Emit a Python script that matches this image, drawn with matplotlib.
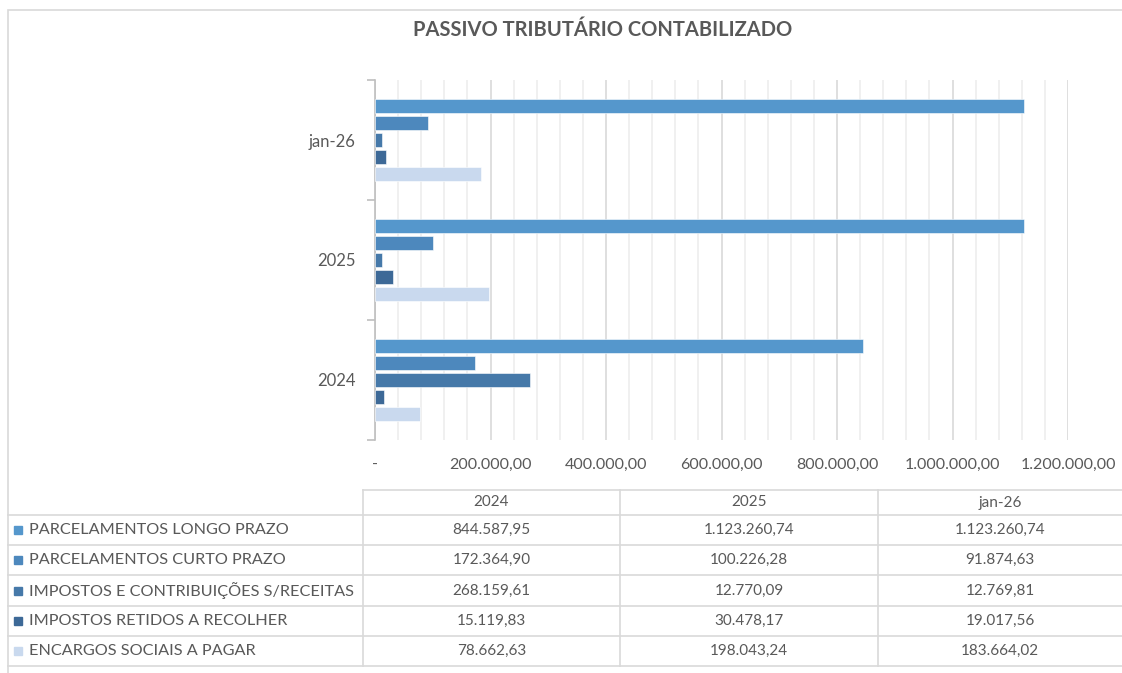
import matplotlib.pyplot as plt
from matplotlib.lines import Line2D
from matplotlib.patches import Rectangle
from matplotlib.ticker import MultipleLocator, FuncFormatter
import numpy as np

plt.rcParams['font.family'] = ['Lato', 'DejaVu Sans']

periods = ['2024', '2025', 'jan-26']
series = ['PARCELAMENTOS LONGO PRAZO', 'PARCELAMENTOS CURTO PRAZO',
          'IMPOSTOS E CONTRIBUIÇÕES S/RECEITAS', 'IMPOSTOS RETIDOS A RECOLHER',
          'ENCARGOS SOCIAIS A PAGAR']
longo = [844587.95, 1123260.74, 1123260.74]
curto = [172364.90, 100226.28, 91874.63]
impostos = [268159.61, 12770.09, 12769.81]
retidos = [15119.83, 30478.17, 19017.56]
encargos = [78662.63, 198043.24, 183664.02]
values = [longo, curto, impostos, retidos, encargos]
colors = ['#5597cc', '#4d88bd', '#4679a9', '#3d6997', '#c9d9ee']

TXT = '#595959'
W, H = 1122, 673


def fx(px):
    return px / W


def fy(py):
    return 1 - py / H


def br(v):
    s = f'{v:,.2f}'
    return s.replace(',', 'X').replace('.', ',').replace('X', '.')


fig = plt.figure(figsize=(11.22, 6.73), dpi=100)

# chart frame
fig.add_artist(Rectangle((fx(8), fy(700)), fx(1130) - fx(8), fy(10) - fy(700),
                         transform=fig.transFigure, fill=False,
                         edgecolor='#d9d9d9', lw=1.2))

ax = fig.add_axes([fx(375), fy(440), fx(1068) - fx(375), fy(80) - fy(440)])
ypos = np.arange(len(periods))
step = 0.14
for i, (name, vals) in enumerate(zip(series, values)):
    ax.barh(ypos + (2 - i) * step, vals, height=0.118, color=colors[i],
            edgecolor='white', linewidth=0.4, zorder=3)

ax.set_xlim(0, 1200000)
ax.set_ylim(-0.5, 2.5)
ax.xaxis.set_major_locator(MultipleLocator(200000))
ax.xaxis.set_minor_locator(MultipleLocator(40000))
ax.xaxis.set_major_formatter(FuncFormatter(lambda v, p: '-' if v == 0 else br(v)))
ax.grid(axis='x', which='minor', color='#eeeeee', lw=1.2, zorder=0)
ax.grid(axis='x', which='major', color='#d9d9d9', lw=1.2, zorder=1)
ax.set_yticks(ypos)
ax.set_yticklabels(periods)
ax.set_yticks([-0.5, 0.5, 1.5, 2.5], minor=True)
ax.tick_params(axis='y', which='major', length=0, pad=14, labelsize=12, colors=TXT)
ax.tick_params(axis='y', which='minor', length=6, color='#bfbfbf', width=1.2)
ax.tick_params(axis='x', which='both', length=0, pad=13, labelsize=11.5, colors=TXT)
for s in ['top', 'right', 'bottom']:
    ax.spines[s].set_visible(False)
ax.spines['left'].set_color('#bfbfbf')
ax.spines['left'].set_linewidth(1.2)
ax.set_facecolor('none')

fig.text(fx(603), fy(30), 'PASSIVO TRIBUTÁRIO CONTABILIZADO', ha='center',
         va='center', fontsize=14.5, fontweight='bold', color=TXT)

# data table
lc = '#d9d9d9'
col_x = [363, 620, 878, 1122]
row_y = [490, 515, 545, 575, 606, 636, 666]


def hline(y, x0, x1):
    fig.add_artist(Line2D([fx(x0), fx(x1)], [fy(y), fy(y)],
                          transform=fig.transFigure, color=lc, lw=1.2))


def vline(x, y0, y1):
    fig.add_artist(Line2D([fx(x), fx(x)], [fy(y0), fy(y1)],
                          transform=fig.transFigure, color=lc, lw=1.2))


hline(row_y[0], col_x[0], W)
for y in row_y[1:]:
    hline(y, 8, W)
for x in col_x[:3]:
    vline(x, row_y[0], row_y[-1])

for j, p in enumerate(periods):
    cx = (col_x[j] + col_x[j + 1]) / 2
    fig.text(fx(cx), fy((row_y[0] + row_y[1]) / 2), p, ha='center',
             va='center', fontsize=11, color=TXT)

for i, (name, vals) in enumerate(zip(series, values)):
    cy = (row_y[i + 1] + row_y[i + 2]) / 2
    fig.add_artist(Rectangle((fx(14), fy(cy + 4)), fx(8), fy(cy - 4) - fy(cy + 4),
                             transform=fig.transFigure, color=colors[i]))
    fig.text(fx(29), fy(cy), name, ha='left', va='center', fontsize=11.7, color=TXT)
    for j, v in enumerate(vals):
        cx = (col_x[j] + col_x[j + 1]) / 2
        fig.text(fx(cx), fy(cy), br(v), ha='center', va='center',
                 fontsize=11, color=TXT)

fig.savefig('out.png', dpi=100)
